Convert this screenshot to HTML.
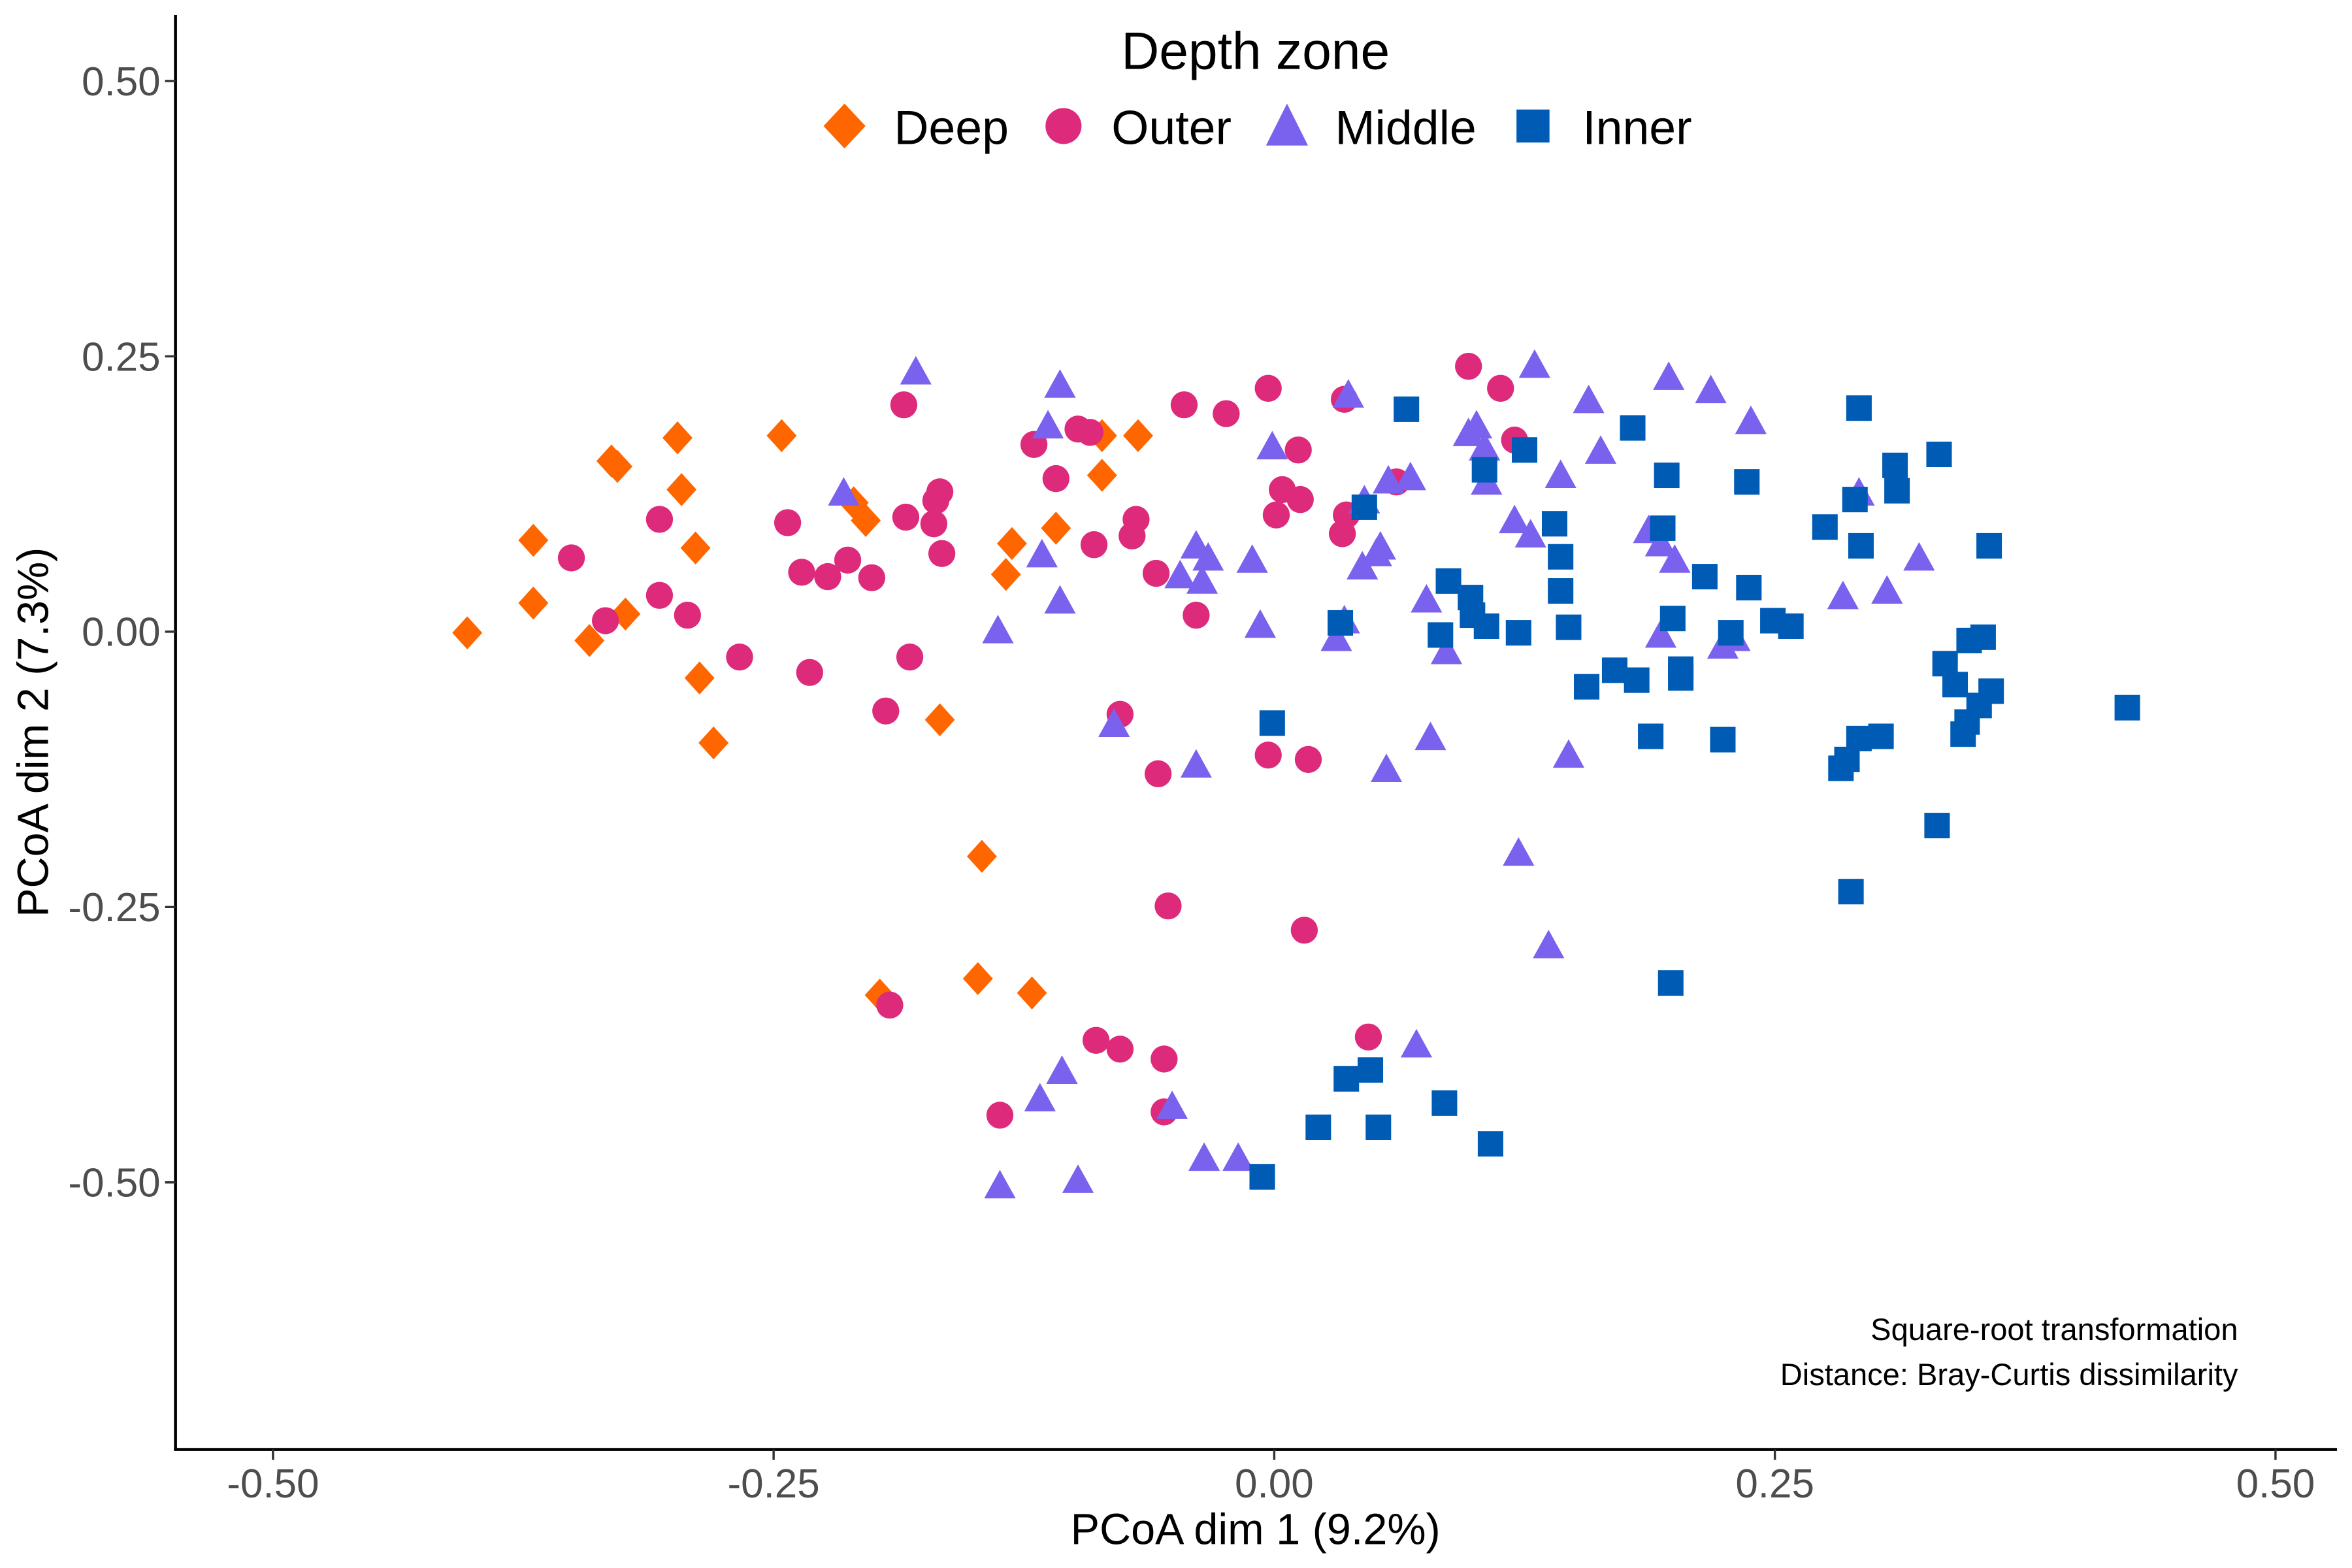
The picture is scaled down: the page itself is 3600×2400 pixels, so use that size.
<!DOCTYPE html>
<html><head><meta charset="utf-8"><style>
html,body{margin:0;padding:0;background:#fff;}
svg{display:block;font-family:"Liberation Sans",sans-serif;}
</style></head><body>
<svg id="chart" width="3600" height="2400" viewBox="0 0 1568 1045" preserveAspectRatio="none" xmlns="http://www.w3.org/2000/svg">
<g id="axes"></g>
<g id="marks"></g>
<g>
<text x="837" y="46" font-size="35" text-anchor="middle">Depth zone</text>
<polygon points="563,69 577,84 563,99 549,84" fill="#FF6600"/>
<text x="596" y="96" font-size="32">Deep</text>
<circle cx="709" cy="84" r="12" fill="#DD2A7B"/>
<text x="741" y="96" font-size="32">Outer</text>
<polygon points="858,69 872,97 844,97" fill="#7B62EE"/>
<text x="890" y="96" font-size="32">Middle</text>
<rect x="1011" y="73" width="22" height="22" fill="#005BB5"/>
<text x="1055" y="96" font-size="32">Inner</text>
</g>
<text x="1492" y="893" font-size="20.5" text-anchor="end">Square-root transformation</text>
<text x="1492" y="923" font-size="20.5" text-anchor="end">Distance: Bray-Curtis dissimilarity</text>
<text x="837" y="1029" font-size="29" text-anchor="middle">PCoA dim 1 (9.2%)</text>
<text transform="translate(32,488) rotate(-90)" font-size="29" text-anchor="middle">PCoA dim 2 (7.3%)</text>
</svg>
<script>
const xTicks=[-0.5,-0.25,0,0.25,0.5];
const yTicks=[0.5,0.25,0,-0.25,-0.5];
const xTickLabels=["-0.50","-0.25","0.00","0.25","0.50"];
const yTickLabels=["0.50","0.25","0.00","-0.25","-0.50"];
const deepX=[-0.403,-0.370,-0.370,-0.342,-0.324,-0.331,-0.328,-0.298,-0.296,-0.289,-0.287,-0.280,-0.246,-0.210,-0.204,-0.167,-0.131,-0.134,-0.109,-0.086,-0.086,-0.068,-0.146,-0.148,-0.121,-0.197];
const deepY=[-0.001,0.083,0.026,-0.008,0.016,0.155,0.150,0.176,0.129,0.076,-0.042,-0.101,0.178,0.117,0.101,-0.080,0.080,0.052,0.094,0.178,0.142,0.178,-0.204,-0.315,-0.328,-0.330];
const outerX=[-0.351,-0.334,-0.307,-0.307,-0.293,-0.267,-0.243,-0.236,-0.223,-0.213,-0.201,-0.232,-0.194,-0.185,-0.184,-0.182,-0.170,-0.169,-0.167,-0.166,-0.120,-0.109,-0.098,-0.092,-0.090,-0.069,-0.071,-0.077,-0.059,-0.058,-0.045,-0.024,-0.039,-0.003,0.001,0.004,0.012,0.013,-0.003,0.017,0.034,0.035,0.036,0.061,0.097,0.113,0.120,-0.053,0.015,-0.192,-0.089,-0.077,-0.055,-0.055,-0.137,0.047];
const outerY=[0.067,0.010,0.102,0.033,0.015,-0.023,0.099,0.054,0.050,0.065,0.049,-0.037,-0.072,0.206,0.104,-0.023,0.098,0.119,0.127,0.071,0.170,0.139,0.184,0.181,0.079,0.102,0.087,-0.075,0.053,-0.129,0.206,0.198,0.015,0.221,0.106,0.129,0.165,0.120,-0.112,-0.116,0.089,0.211,0.106,0.136,0.241,0.221,0.174,-0.249,-0.271,-0.339,-0.371,-0.379,-0.388,-0.436,-0.439,-0.368];
const middleX=[-0.179,-0.215,-0.107,-0.113,-0.116,-0.107,-0.138,-0.080,-0.047,-0.039,-0.036,-0.033,-0.011,-0.007,-0.039,-0.001,0.037,0.031,0.035,0.045,0.051,0.053,0.044,0.057,0.068,0.056,0.076,0.078,0.086,0.097,0.101,0.105,0.106,0.120,0.128,0.130,0.122,0.143,0.147,0.137,0.157,0.163,0.187,0.193,0.193,0.197,0.200,0.218,0.224,0.230,0.238,0.284,0.292,0.306,0.322,-0.117,-0.106,-0.137,-0.098,-0.051,-0.035,-0.018,0.071];
const middleY=[0.234,0.124,0.222,0.185,0.068,0.026,-0.001,-0.086,0.049,0.076,0.044,0.065,0.063,0.004,-0.123,0.166,0.213,-0.008,0.008,0.117,0.069,0.075,0.057,0.135,0.138,-0.127,0.027,-0.098,-0.020,0.178,0.185,0.165,0.134,0.099,0.086,0.240,-0.203,0.140,-0.114,-0.287,0.208,0.162,0.090,0.078,-0.005,0.229,0.063,0.217,-0.015,-0.008,0.189,0.030,0.124,0.035,0.065,-0.426,-0.401,-0.505,-0.500,-0.433,-0.480,-0.480,-0.377];
const innerX=[0.066,0.045,0.033,-0.001,0.087,0.083,0.098,0.099,0.106,0.105,0.125,0.122,0.140,0.143,0.143,0.147,0.156,0.170,0.181,0.179,0.188,0.194,0.196,0.199,0.203,0.203,0.215,0.224,0.228,0.236,0.237,0.249,0.258,0.275,0.292,0.290,0.293,0.310,0.311,0.332,0.357,0.347,0.354,0.358,0.352,0.346,0.344,0.335,0.340,0.283,0.286,0.292,0.303,0.331,0.426,0.288,0.198,0.036,0.048,0.052,0.022,0.085,0.108,-0.006];
const innerY=[0.202,0.113,0.008,-0.083,0.046,-0.003,0.031,0.015,0.005,0.147,0.165,-0.001,0.098,0.068,0.037,0.004,-0.050,-0.035,-0.044,0.185,-0.095,0.094,0.142,0.012,-0.034,-0.042,0.050,-0.098,-0.001,0.136,0.040,0.010,0.005,0.095,0.203,0.120,0.078,0.151,0.128,0.161,0.078,-0.008,-0.005,-0.054,-0.067,-0.082,-0.093,-0.029,-0.048,-0.124,-0.116,-0.097,-0.095,-0.176,-0.069,-0.236,-0.319,-0.406,-0.398,-0.450,-0.450,-0.428,-0.465,-0.495];

const NS="http://www.w3.org/2000/svg";
const sx=v=>849.5+v*1335;
const sy=v=>421-v*734;
function mk(tag,attrs,parent){const e=document.createElementNS(NS,tag);for(const k in attrs)e.setAttribute(k,attrs[k]);parent.appendChild(e);return e;}
const axes=document.getElementById('axes');
let l=mk('line',{x1:117,y1:10,x2:117,y2:966.5,stroke:'#000','stroke-width':2},axes);


l=mk('line',{x1:116,y1:966,x2:1558,y2:966,stroke:'#000','stroke-width':2},axes);


xTicks.forEach((v,i)=>{
  const t=mk('line',{x1:sx(v),y1:966,x2:sx(v),y2:973,stroke:'#333','stroke-width':1.5},axes);
  
  
  const tx=mk('text',{x:sx(v),y:998,'font-size':27,fill:'#4d4d4d','text-anchor':'middle'},axes);
  tx.textContent=xTickLabels[i];
  
  
});
yTicks.forEach((v,i)=>{
  const t=mk('line',{x1:110,y1:sy(v),x2:117,y2:sy(v),stroke:'#333','stroke-width':1.5},axes);
  
  
  const tx=mk('text',{x:107,y:sy(v)+9.5,'font-size':27,fill:'#4d4d4d','text-anchor':'end'},axes);
  tx.textContent=yTickLabels[i];
  
  
});
const marks=document.getElementById('marks');
deepX.forEach((v,i)=>{const x=sx(v),y=sy(deepY[i]);
  const p=mk('polygon',{points:`${x},${y-11} ${x+10},${y} ${x},${y+11} ${x-10},${y}`,fill:'#FF6600'},marks);
  
  });
outerX.forEach((v,i)=>{
  const c=mk('circle',{cx:sx(v),cy:sy(outerY[i]),r:9,fill:'#DD2A7B'},marks);
  
  });
middleX.forEach((v,i)=>{const x=sx(v),y=sy(middleY[i]);
  const p=mk('polygon',{points:`${x},${y-12} ${x+10.5},${y+7} ${x-10.5},${y+7}`,fill:'#7B62EE'},marks);
  
  });
innerX.forEach((v,i)=>{
  const r=mk('rect',{x:sx(v)-8.5,y:sy(innerY[i])-8.5,width:17,height:17,fill:'#005BB5'},marks);
  
  });
</script>
</body></html>
